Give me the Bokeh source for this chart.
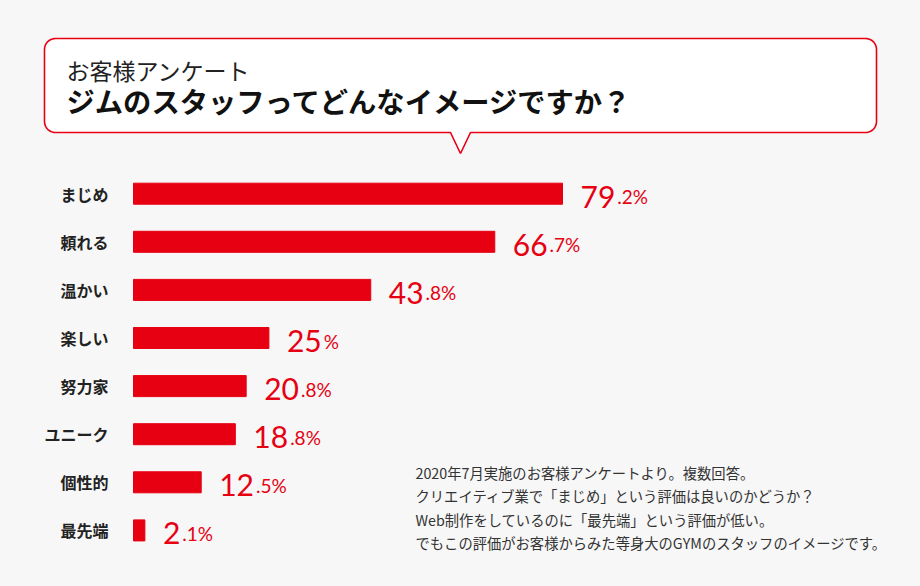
import numpy as np
from bokeh.plotting import figure
from bokeh.models import Range1d, ColumnDataSource
from bokeh.core.properties import value
from bokeh.embed import file_html
from bokeh.resources import INLINE

# ---------------- data ----------------
categories = ["まじめ", "頼れる", "温かい", "楽しい", "努力家", "ユニーク", "個性的", "最先端"]
percentages = [79.2, 66.7, 43.8, 25, 20.8, 18.8, 12.5, 2.1]

title_small = "お客様アンケート"
title_main = "ジムのスタッフってどんなイメージですか？"
notes = [
    "2020年7月実施のお客様アンケートより。複数回答。",
    "クリエイティブ業で「まじめ」という評価は良いのかどうか？",
    "Web制作をしているのに「最先端」という評価が低い。",
    "でもこの評価がお客様からみた等身大のGYMのスタッフのイメージです。",
]

# ---------------- style / layout ----------------
W, H = 920, 586
BG = "#f7f7f7"
RED = "#e60012"
JP = value("Noto Sans CJK JP")
NUM = value("Lato")

bar_zero_px = 133.0
px_per_pct = 429.0 / 79.2
row0_px = 193.2
row_px = 48.1
big_size = 30
digit_w = 0.58 * big_size

p = figure(width=W, height=H, x_range=Range1d(0, W), y_range=Range1d(H, 0),
           output_backend="svg", toolbar_location=None,
           x_axis_location=None, y_axis_location=None, min_border=0,
           background_fill_color=BG, border_fill_color=BG, outline_line_color=None)
p.xgrid.visible = False
p.ygrid.visible = False
p.extra_x_ranges = {"pct": Range1d(-bar_zero_px / px_per_pct, (W - bar_zero_px) / px_per_pct)}
p.extra_y_ranges = {"rows": Range1d((H - row0_px) / row_px, -row0_px / row_px)}

# ---------------- speech bubble ----------------
def bubble(L, T, R, B, r, tx0, tx1, tipx, tipy):
    xs, ys = [], []
    def arc(cx, cy, a0, a1):
        a = np.radians(np.linspace(a0, a1, 12))
        xs.extend(cx + r * np.cos(a)); ys.extend(cy + r * np.sin(a))
    arc(L + r, T + r, 180, 270)
    arc(R - r, T + r, 270, 360)
    arc(R - r, B - r, 0, 90)
    xs.extend([tx1, tipx, tx0]); ys.extend([B, tipy, B])
    arc(L + r, B - r, 90, 180)
    return xs, ys

bx, by = bubble(44, 38, 876, 132, 11, 450, 470, 460, 153)
p.patch(bx, by, fill_color="white", line_color=RED, line_width=1.6)

p.text(x=[66], y=[69], text=[title_small], text_font=JP, text_font_size="23px",
       text_color="#222222", text_baseline="middle", text_align="left")
p.text(x=[66], y=[100], text=[title_main], text_font=JP, text_font_size="28.3px",
       text_font_style="bold", text_color="#111111", text_baseline="middle", text_align="left")

# ---------------- bars ----------------
big, small, small_off = [], [], []
for v in percentages:
    s = f"{v:g}"
    ip, _, dp = s.partition(".")
    big.append(ip)
    small.append(("." + dp if dp else "") + "%")
    small_off.append(18 + digit_w * len(ip) + 2)

src = ColumnDataSource(dict(cat=categories, row=list(range(len(categories))),
                            pct=percentages, big=big, small=small, small_off=small_off))

p.hbar(y="row", left=0, right="pct", height=0.437, source=src, color=RED,
       x_range_name="pct", y_range_name="rows")

p.text(x=0, y="row", text="cat", source=src, x_offset=-25, text_align="right",
       text_baseline="middle", text_font=JP, text_font_size="16px",
       text_font_style="bold", text_color="#222222",
       x_range_name="pct", y_range_name="rows")

p.text(x="pct", y="row", text="big", source=src, x_offset=18, y_offset=3,
       text_align="left", text_baseline="alphabetic", text_font=NUM,
       text_font_size=f"{big_size}px", text_color=RED,
       x_range_name="pct", y_range_name="rows")
p.text(x="pct", y="row", text="small", source=src, x_offset="small_off", y_offset=3,
       text_align="left", text_baseline="alphabetic", text_font=NUM,
       text_font_size="19px", text_color=RED,
       x_range_name="pct", y_range_name="rows")

# ---------------- notes ----------------
p.text(x=[415] * len(notes), y=[472 + 23.4 * i for i in range(len(notes))], text=notes,
       text_font=JP, text_font_size="14.3px", text_color="#333333",
       text_baseline="middle", text_align="left")

html = file_html(p, INLINE)
html = html.replace("<head>", "<head><style>body{background:#f7f7f7;}</style>", 1)
open("out.html", "w").write(html)
